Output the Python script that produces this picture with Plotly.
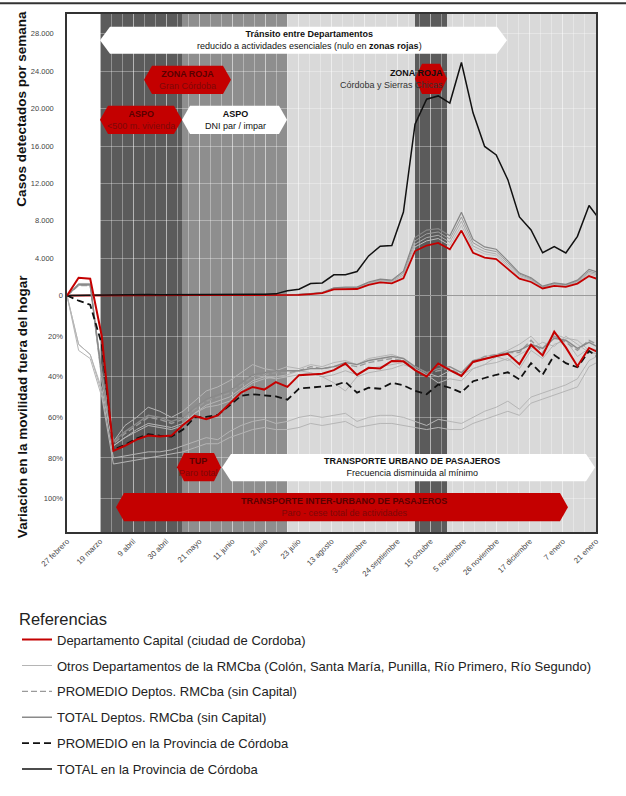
import numpy as np
import plotly.graph_objects as go

FONT = "Liberation Sans, Arial, sans-serif"

# ---------------- data ----------------
x_tick_labels = ["27 febrero", "19 marzo", "9 abril", "30 abril", "21 mayo", "11 junio",
                 "2 julio", "23 julio", "13 agosto", "3 septiembre", "24 septiembre",
                 "15 octubre", "5 noviembre", "26 noviembre", "17 diciembre", "7 enero",
                 "21 enero"]
cases_tick_vals = [4000, 8000, 12000, 16000, 20000, 24000, 28000]
cases_tick_text = ["4.000", "8.000", "12.000", "16.000", "20.000", "24.000", "28.000"]
mob_tick_vals = [0, -20, -40, -60, -80, -100]
mob_tick_text = ["0", "20%", "40%", "60%", "80%", "100%"]

weeks = list(range(47))  # weekly observations

# ---- weekly detected cases ----
cases_total_prov = [0, 20, 40, 80, 110, 120, 130, 110, 80, 80,
                    90, 120, 90, 80, 100, 140, 130, 140, 180, 520,
                    680, 1280, 1350, 2220, 2220, 2570, 4240, 5280, 5350, 8930,
                    18330, 21010, 21360, 20600, 24940, 19550, 15950, 15050, 12400, 8410,
                    7020, 4580, 5240, 4550, 6330, 9630, 8000]
cases_capital = [0, 10, 20, 40, 60, 60, 60, 50, 40, 40,
                 40, 50, 40, 40, 50, 60, 60, 60, 80, 30,
                 60, 150, 250, 650, 700, 700, 1150, 1400, 1300, 1850,
                 4760, 5350, 5630, 4940, 6950, 4580, 4060, 3890, 2850, 1800,
                 1450, 760, 1030, 930, 1280, 2080, 1650]
cases_early = [0, 12, 25, 50, 70, 70, 70, 60, 50, 50, 50, 60, 50, 50, 60, 70, 70, 70, 95]
cases_rm_1 = cases_early + [40, 80, 200, 330, 820, 900, 900, 1450, 1750, 1650, 2600, 6200, 7000,
                            7150, 6400, 8900, 6000, 5200, 4950, 3700, 2400, 1900, 1000, 1350,
                            1200, 1650, 2800, 2400]
cases_rm_2 = cases_early + [38, 75, 190, 310, 780, 860, 860, 1380, 1670, 1580, 2400, 5850, 6600,
                            6800, 6050, 8400, 5650, 4950, 4700, 3500, 2300, 1800, 950, 1280,
                            1150, 1550, 2600, 2250]
cases_rm_3 = cases_early + [35, 70, 180, 290, 740, 810, 810, 1300, 1580, 1480, 2200, 5500, 6200,
                            6450, 5700, 7950, 5300, 4700, 4450, 3300, 2150, 1700, 900, 1200,
                            1080, 1450, 2450, 2100]
cases_rm_4 = cases_early + [33, 65, 170, 275, 700, 760, 760, 1230, 1500, 1400, 2050, 5200, 5850,
                            6100, 5350, 7500, 5000, 4450, 4250, 3100, 2000, 1600, 850, 1130,
                            1020, 1370, 2300, 1950]

# ---- mobility outside home (% variation) ----
mob_capital = [0, 8.8, 8.3, -20, -76.5, -74, -71, -69, -69.4, -69,
               -63.8, -59.3, -60.9, -59, -53.4, -47.8, -45, -46.3, -42.6, -45,
               -39.2, -38.7, -38.5, -36.7, -33.5, -39.1, -35.6, -35.9, -32.2, -32.4,
               -36.7, -39.9, -33.5, -36.7, -39.6, -32.7, -31.1, -29.8, -28.7, -33.8,
               -24.3, -29.5, -17.8, -25.5, -34.8, -25.8, -28.5]
mob_prom_prov = [0, -2.5, -4.5, -24, -76, -73.5, -70.5, -68.3, -69, -69.5,
                 -66, -60, -59.8, -58.8, -54.2, -49.4, -48.6, -49, -49.7, -51.3,
                 -45.8, -45.3, -44.9, -44.3, -42.5, -47.8, -45.4, -45.9, -43, -44.2,
                 -46.9, -48.6, -43.8, -45.4, -47.8, -42.2, -40.6, -39, -37.8, -41.3,
                 -33.3, -39, -29.3, -33.3, -35.3, -27.3, -31]
mob_otros_1 = [0, 6, 6, -38, -72, -64, -60, -55, -57, -60, -57, -52, -47, -45, -42, -38,
               -34, -36, -37, -35, -36, -34, -35, -33, -32, -34, -31, -30, -29, -31, -36,
               -40, -34, -37, -40, -32, -30, -29, -27, -24, -20, -26, -19, -21, -22, -27, -30]
mob_otros_2 = [0, -24, -29, -46, -74, -70, -67, -64, -65, -66, -64, -58, -55, -54, -52,
               -47, -43, -41, -40, -39, -37, -38, -40, -43, -47, -40, -38, -37, -36, -34,
               -36, -39, -43, -41, -42, -36, -34, -33, -31, -36, -27, -31, -24, -22, -30,
               -26, -27]
mob_otros_3 = [0, -24, -29, -48, -80, -79, -78, -77, -77, -76, -74, -72, -70, -71, -67,
               -64, -62, -61, -63, -62, -60, -59, -60, -59, -58, -62, -60, -59, -59, -60,
               -62, -64, -61, -62, -63, -60, -57, -55, -52, -56, -50, -48, -46, -44, -41,
               -32, -29]
mob_otros_4 = [0, -27, -31, -50, -83, -82, -81, -80, -79, -78, -77, -75, -73, -73, -70,
               -68, -66, -65, -66, -66, -65, -63, -64, -63, -62, -65, -64, -63, -63, -64,
               -65, -66, -65, -66, -66, -63, -61, -59, -57, -59, -53, -51, -49, -47, -45,
               -35, -32]
mob_otros_5 = [0, 5, 5, -42, -74, -70, -66, -63, -64, -65, -63, -58, -54, -52, -50, -46,
               -42, -40, -41, -40, -39, -38, -40, -39, -37, -39, -36, -35, -34, -33, -35,
               -38, -40, -37, -39, -36, -34, -30, -32, -29, -26, -23, -25, -20, -24, -28, -29]
mob_prom_rm = [0, 5, 5, -40, -73, -68, -64, -60, -61, -63, -61, -56, -52, -50, -48, -44,
               -40, -39, -38, -38, -37, -35, -36, -35, -34, -35, -33, -32, -31, -32, -36,
               -39, -37, -36, -39, -33, -30, -29, -28, -28, -22, -28, -20, -23, -27, -22, -25]
mob_total_rm = [0, 5.5, 5.5, -39, -72, -67, -63, -59, -60, -62, -60, -55, -51, -49, -47,
                -43, -39, -38, -37, -37, -37, -36, -36, -35, -33, -34, -32, -31, -30, -31,
                -35, -38, -36, -35, -38, -32, -31, -30, -28, -27, -24, -26, -21, -22, -26,
                -23, -26]

# legend names
N_CAP = "Departamento Capital (ciudad de Cordoba)"
N_OTR = "Otros Departamentos de la RMCba (Colón, Santa María, Punilla, Río Primero, Río Segundo)"
N_PRM = "PROMEDIO Deptos. RMCba (sin Capital)"
N_TRM = "TOTAL Deptos. RMCba (sin Capital)"
N_PPV = "PROMEDIO en la Provincia de Córdoba"
N_TPV = "TOTAL en la Provincia de Córdoba"

# ---------------- geometry ----------------
W, H = 626, 796
ML, MR, MT, MB = 67, 30, 12, 253
PW = W - ML - MR
PH = H - MT - MB
X_END = 45.6          # visible weeks across the plot width


def px(x):
    return (x - ML) / PW


def py(y):
    return (H - MB - y) / PH


RED = "#c40000"

fig = go.Figure()


def add(y, name, color, width, dash="solid", yaxis="y2", show=False, rank=10):
    fig.add_trace(go.Scatter(
        x=weeks, y=y, mode="lines", name=name, legendgroup=name, showlegend=show,
        legendrank=rank, yaxis=yaxis,
        line=dict(color=color, width=width, dash=dash), hoverinfo="skip"))


# upper panel grey lines (cases)
add(cases_rm_4, N_OTR, "#bdbdbd", 1, yaxis="y")
add(cases_rm_3, N_OTR, "#adadad", 1, yaxis="y")
add(cases_rm_2, N_OTR, "#9c9c9c", 1, yaxis="y")
add(cases_rm_1, N_TRM, "#868686", 1.2, yaxis="y")
# lower panel grey lines (mobility)
add(mob_otros_1, N_OTR, "#b5b5b5", 1, show=True, rank=2)
for s in (mob_otros_2, mob_otros_3, mob_otros_4, mob_otros_5):
    add(s, N_OTR, "#b5b5b5", 1)
add(mob_prom_rm, N_PRM, "#9a9a9a", 1.4, dash="6px,3px", show=True, rank=3)
add(mob_total_rm, N_TRM, "#8a8a8a", 1.4, show=True, rank=4)
add(mob_prom_prov, N_PPV, "#111111", 1.8, dash="7px,4px", show=True, rank=5)
add(cases_capital, N_CAP, RED, 1.8, yaxis="y")
add(mob_capital, N_CAP, RED, 2, show=True, rank=1)
add(cases_total_prov, N_TPV, "#111111", 1.5, yaxis="y", show=True, rank=6)

# ---------------- background bands ----------------
shapes = []


def band(x0, x1, color):
    shapes.append(dict(type="rect", xref="paper", yref="paper", x0=px(x0), x1=px(x1),
                       y0=0, y1=1, fillcolor=color, line=dict(width=0), layer="below"))


band(100, 182, "#5b5b5b")
band(182, 287, "#8e8e8e")
band(287, 596, "#d9d9d9")
band(415, 447, "#5b5b5b")


def banner(x0, x1, y0, y1, tip, color):
    ym = (y0 + y1) / 2
    pts = [(x0, ym), (x0 + tip, y0), (x1 - tip, y0), (x1, ym), (x1 - tip, y1), (x0 + tip, y1)]
    path = "M " + " L ".join(f"{px(a):.5f},{py(b):.5f}" for a, b in pts) + " Z"
    shapes.append(dict(type="path", xref="paper", yref="paper", path=path,
                       fillcolor=color, line=dict(width=0), layer="above"))


banner(100, 507, 25, 52.7, 10, "white")
banner(144, 231, 65, 94, 8, RED)
banner(100, 182, 106, 135, 8, RED)
banner(182, 287, 106, 135, 8, "white")
banner(415, 447, 63, 94, 7, RED)
banner(177, 221, 462, 491, 7, RED)
banner(222, 595, 463, 491, 9, "white")
banner(116, 568, 503, 532, 8, RED)

# top page rule
shapes.append(dict(type="rect", xref="paper", yref="paper", x0=px(0), x1=px(W),
                   y0=py(2), y1=py(0), fillcolor="#333333", line=dict(width=0)))

annotations = []


def note(x, y, text, color, size=9, xanchor="center", align="center"):
    annotations.append(dict(xref="paper", yref="paper", x=px(x), y=py(y), text=text,
                            showarrow=False, xanchor=xanchor, yanchor="middle", align=align,
                            font=dict(family=FONT, size=size, color=color)))


MAROON = "#5a0000"
note(309, 39, "<b>Tránsito entre Departamentos</b><br>reducido a actividades esenciales "
     "(nulo en <b>zonas rojas</b>)", "#111111")
note(187.5, 79.5, "<b>ZONA ROJA</b><br><span style='color:#7d0808'>Gran Córdoba</span>", MAROON)
note(141, 120.5, "<b>ASPO</b><br><span style='color:#7d0808'>&lt;500 m. vivienda</span>", MAROON)
note(235, 120.5, "<b>ASPO</b><br>DNI par / impar", "#111111")
note(445, 78.5, "<b>ZONA ROJA</b><br><span style='color:#333'>Córdoba y Sierras Chicas</span>",
     "#111111", xanchor="right", align="right")
note(198.5, 476, "<b>TUP</b><br><span style='color:#7d0808'>Paro total</span>", MAROON)
note(412, 476.5, "<b>TRANSPORTE URBANO DE PASAJEROS</b><br>Frecuencia disminuida al mínimo",
     "#111111")
note(343.5, 517, "<b>TRANSPORTE INTER-URBANO DE PASAJEROS</b><br>"
     "<span style='color:#7d0808'>Paro - cese total de actividades</span>", MAROON)

for yc, txt in ((109, "Casos detectados por semana"),
                (415, "Variación en la movilidad fuera del hogar")):
    annotations.append(dict(xref="paper", yref="paper", x=px(22), y=py(yc), text=f"<b>{txt}</b>",
                            textangle=-90, showarrow=False, xanchor="center", yanchor="middle",
                            font=dict(family=FONT, size=13.5, color="#111111")))

GRID = "rgba(255,255,255,0.33)"

fig.update_layout(
    width=W, height=H,
    margin=dict(l=ML, r=MR, t=MT, b=MB, pad=0),
    paper_bgcolor="white", plot_bgcolor="white",
    font=dict(family=FONT, color="#333333"),
    shapes=shapes, annotations=annotations,
    xaxis=dict(range=[0, X_END], tickmode="array",
               tickvals=list(np.linspace(0, X_END, len(x_tick_labels))),
               ticktext=x_tick_labels, tickangle=-45,
               tickfont=dict(size=7.8, color="#444444"),
               showgrid=True, gridcolor=GRID, gridwidth=1,
               minor=dict(tickvals=list(np.linspace(0, X_END, 49)), showgrid=True,
                          gridcolor=GRID, gridwidth=1),
               zeroline=False, showline=True, linecolor="#333333", linewidth=1.5,
               mirror=True, ticks=""),
    yaxis=dict(range=[-25303, 30125], tickmode="array", tickvals=cases_tick_vals,
               ticktext=cases_tick_text, tickfont=dict(size=7.5, color="#444444"),
               showgrid=True, gridcolor=GRID, gridwidth=1,
               zeroline=True, zerolinecolor="#9a9a9a", zerolinewidth=1,
               showline=True, linecolor="#333333", linewidth=1.5, mirror=True,
               ticks="", ticklabelstandoff=10),
    yaxis2=dict(range=[-116.5, 138.8], overlaying="y", side="left", tickmode="array",
                tickvals=mob_tick_vals, ticktext=mob_tick_text,
                tickfont=dict(size=7.5, color="#444444"),
                showgrid=True, gridcolor=GRID, gridwidth=1, zeroline=False,
                showline=False, ticks="", ticklabelstandoff=3),
    legend=dict(x=px(17), y=py(616), xanchor="left", yanchor="top",
                traceorder="grouped", tracegroupgap=6, itemwidth=30,
                title=dict(text="Referencias", font=dict(size=16.5, color="#222222")),
                font=dict(size=13, color="#222222"), bgcolor="rgba(0,0,0,0)"),
    showlegend=True,
)

fig.write_html("out.html", config={"displayModeBar": False},
               post_script="document.body.style.margin='0';")
